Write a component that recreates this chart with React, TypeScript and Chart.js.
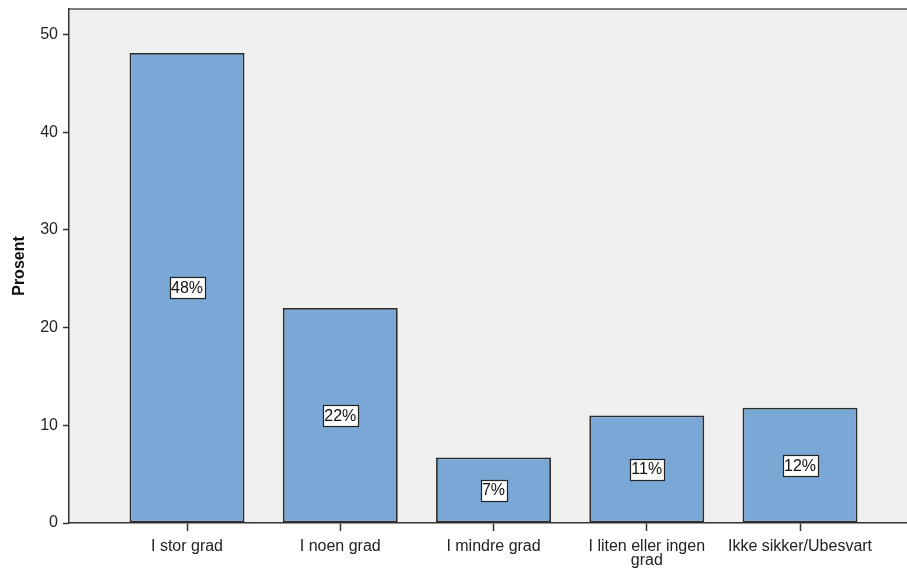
import React, { useEffect, useRef } from "react";
import { Chart, registerables } from "chart.js";

Chart.register(...registerables);

const categories: (string | string[])[] = [
  "I stor grad",
  "I noen grad",
  "I mindre grad",
  ["I liten eller ingen", "grad"],
  "Ikke sikker/Ubesvart",
];
const percentValues = [48.1, 22.0, 6.7, 11.0, 11.8];
const yTickValues = [0, 10, 20, 30, 40, 50];
const yAxisTitle = "Prosent";

const FONT = "'Liberation Sans', Arial, sans-serif";

export default function App() {
  const canvasRef = useRef<HTMLCanvasElement | null>(null);

  useEffect(() => {
    const canvas = canvasRef.current;
    if (!canvas) return;

    const bgPlugin = {
      id: "plotBg",
      beforeDraw(chart: any) {
        const { ctx, chartArea } = chart;
        ctx.save();
        ctx.fillStyle = "#F0F0F0";
        ctx.fillRect(chartArea.left, chartArea.top, chartArea.right - chartArea.left, chartArea.bottom - chartArea.top);
        ctx.strokeStyle = "#555555";
        ctx.lineWidth = 1.5;
        ctx.beginPath();
        ctx.moveTo(chartArea.left, chartArea.top);
        ctx.lineTo(chartArea.right, chartArea.top);
        ctx.stroke();
        ctx.restore();
      },
    };

    const labelPlugin = {
      id: "barLabels",
      afterDatasetsDraw(chart: any) {
        const { ctx } = chart;
        const meta = chart.getDatasetMeta(0);
        ctx.save();
        ctx.font = `16px ${FONT}`;
        ctx.textAlign = "center";
        ctx.textBaseline = "middle";
        meta.data.forEach((el: any, i: number) => {
          const txt = Math.round(percentValues[i]) + "%";
          const cx = el.x;
          const cy = (el.y + el.base) / 2;
          const w = Math.round(ctx.measureText(txt).width + 3);
          const h = 21;
          const left = Math.round(cx - w / 2);
          const top = Math.round(cy - h / 2);
          ctx.fillStyle = "#FFFFFF";
          ctx.fillRect(left, top, w, h);
          ctx.strokeStyle = "#222222";
          ctx.lineWidth = 1.2;
          ctx.strokeRect(left + 0.5, top + 0.5, w, h);
          ctx.fillStyle = "#111111";
          ctx.fillText(txt, cx, cy + 1);
        });
        ctx.restore();
      },
    };

    const chart = new Chart(canvas, {
      type: "bar",
      data: {
        datasets: [
          {
            data: percentValues.map((v, i) => ({ x: i, y: v })),
            backgroundColor: "#79A8D6",
            borderColor: "#2B2B2B",
            borderWidth: 1.8,
            borderSkipped: false,
            barPercentage: 0.75,
            categoryPercentage: 1,
          },
        ],
      },
      options: {
        animation: false,
        responsive: false,
        layout: { padding: { top: 9, left: 0, right: 0, bottom: 0 } },
        plugins: {
          legend: { display: false },
          tooltip: { enabled: false },
        },
        scales: {
          x: {
            type: "linear",
            offset: false,
            min: -0.77,
            max: 4.698,
            afterBuildTicks: (scale: any) => {
              scale.ticks = categories.map((_, i) => ({ value: i }));
            },
            afterFit: (scale: any) => {
              scale.height = 46;
              scale.paddingLeft = 0;
              scale.paddingRight = 0;
            },
            ticks: {
              autoSkip: false,
              maxRotation: 0,
              padding: 8,
              color: "#222222",
              font: { family: FONT, size: 16, lineHeight: 0.9 },
              callback: (value: any) => categories[Number(value)] as any,
            },
            grid: {
              display: true,
              offset: false,
              drawOnChartArea: false,
              drawTicks: true,
              tickLength: 8,
              tickColor: "#333333",
              tickWidth: 1.5,
            },
            border: { display: true, color: "#333333", width: 1.5 },
          },
          y: {
            min: 0,
            max: 52.6,
            afterBuildTicks: (scale: any) => {
              scale.ticks = yTickValues.map((v) => ({ value: v }));
            },
            afterFit: (scale: any) => {
              scale.width = 69;
              scale.paddingTop = 0;
              scale.paddingBottom = 0;
            },
            ticks: {
              padding: 5,
              color: "#222222",
              font: { family: FONT, size: 16 },
            },
            grid: {
              display: true,
              drawOnChartArea: false,
              drawTicks: true,
              tickLength: 6,
              tickColor: "#333333",
              tickWidth: 1.5,
            },
            border: { display: true, color: "#333333", width: 1.5 },
            title: {
              display: true,
              text: yAxisTitle,
              color: "#111111",
              font: { family: FONT, size: 16, weight: "bold" },
              padding: { top: 10, bottom: 0 },
            },
          },
        },
      },
      plugins: [bgPlugin, labelPlugin],
    });

    return () => chart.destroy();
  }, []);

  return (
    <div style={{ position: "fixed", left: 0, top: 0, width: 907, height: 569, background: "#FFFFFF" }}>
      <canvas ref={canvasRef} width={907} height={569} style={{ display: "block" }} />
    </div>
  );
}
